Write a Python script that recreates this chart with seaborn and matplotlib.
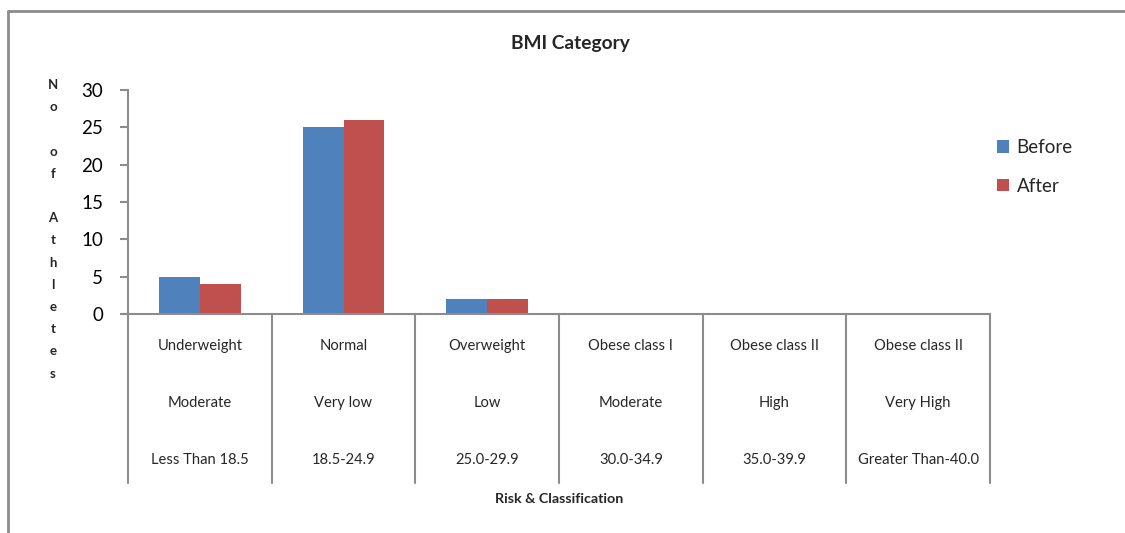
import matplotlib
matplotlib.use("Agg")
import matplotlib.pyplot as plt
from matplotlib.lines import Line2D
from matplotlib.transforms import blended_transform_factory
import seaborn as sns
import pandas as pd

# Data
classes = ["Underweight", "Normal", "Overweight", "Obese class I", "Obese class II", "Obese class II"]
risks = ["Moderate", "Very low", "Low", "Moderate", "High", "Very High"]
ranges = ["Less Than 18.5", "18.5-24.9", "25.0-29.9", "30.0-34.9", "35.0-39.9", "Greater Than-40.0"]
before = [5, 25, 2, 0, 0, 0]
after = [4, 26, 2, 0, 0, 0]
series = ["Before", "After"]
colors = ["#4F81BD", "#C0504D"]

cat_keys = [f"c{i}" for i in range(len(classes))]
df = pd.DataFrame({
    "cat": cat_keys * 2,
    "series": [series[0]] * len(before) + [series[1]] * len(after),
    "count": before + after,
})

sns.set_theme(style="white")
plt.rcParams["font.family"] = ["Lato", "DejaVu Sans"]

W, H = 1125, 533
fig = plt.figure(figsize=(W / 100, H / 100), dpi=100)
ax = fig.add_axes([128 / W, 1 - 314 / H, (990 - 128) / W, (314 - 90) / H])

sns.barplot(data=df, x="cat", y="count", hue="series", order=cat_keys,
            hue_order=series, palette=colors, width=0.57, saturation=1,
            edgecolor="none", ax=ax, legend=True)

ax.set_xlim(-0.5, len(classes) - 0.5)
ax.set_ylim(0, 30)
ax.set_yticks(range(0, 31, 5))
ax.set_xticks([])
ax.set_xlabel("")
ax.set_ylabel("")
for s in ["top", "right"]:
    ax.spines[s].set_visible(False)
for s in ["left", "bottom"]:
    ax.spines[s].set_color("#8c8c8c")
    ax.spines[s].set_linewidth(1.5)
ax.tick_params(axis="y", direction="out", length=6, width=1.5, color="#8c8c8c",
               labelsize=13.5, pad=12, left=True)
for lab in ax.get_yticklabels():
    lab.set_color("black")

# Category table under the axis
tr = blended_transform_factory(ax.transData, ax.transAxes)
y_bottom = (314 - 483) / 224
for i in range(len(classes) + 1):
    ax.add_line(Line2D([i - 0.5, i - 0.5], [0, y_bottom], transform=tr,
                       color="#8c8c8c", lw=1.5, clip_on=False))
ax.add_line(Line2D([-0.5, -0.5 - 6 / 143.7], [0, 0], transform=tr,
                   color="#8c8c8c", lw=1.5, clip_on=False))
rows = [(classes, (314 - 346) / 224), (risks, (314 - 403) / 224), (ranges, (314 - 460) / 224)]
for labels, yy in rows:
    for i, t in enumerate(labels):
        ax.text(i, yy, t, transform=tr, ha="center", va="center", fontsize=10.6)
ax.text(2.5, (314 - 499) / 224, "Risk & Classification", transform=tr,
        ha="center", va="center", fontsize=10.3, fontweight="bold")

# Title and stacked y label
fig.text(570 / W, 1 - 43 / H, "BMI Category", ha="center", va="center",
         fontsize=13.8, fontweight="bold")
ylab = "N\no\n\no\nf\n\nA\nt\nh\nl\ne\nt\ne\ns"
fig.text(53 / W, 1 - 79 / H, ylab, ha="center", va="top", fontsize=9.5,
         fontweight="bold", linespacing=2.02)

# Legend
handles, labels = ax.get_legend_handles_labels()
ax.legend(handles, labels, loc="upper left", bbox_to_anchor=(997 / W, 1 - 139 / H),
          bbox_transform=fig.transFigure, frameon=False, fontsize=13.5,
          handlelength=0.65, handleheight=0.65, handletextpad=0.4, labelspacing=1.15,
          borderaxespad=0, borderpad=0)

# Outer chart frame
fig.add_artist(Line2D([8 / W, 1], [1 - 11 / H, 1 - 11 / H], transform=fig.transFigure,
                      color="#8c8c8c", lw=2))
fig.add_artist(Line2D([8 / W, 8 / W], [0, 1 - 11 / H], transform=fig.transFigure,
                      color="#8c8c8c", lw=2))

fig.savefig("out.png", dpi=100, facecolor="white")
